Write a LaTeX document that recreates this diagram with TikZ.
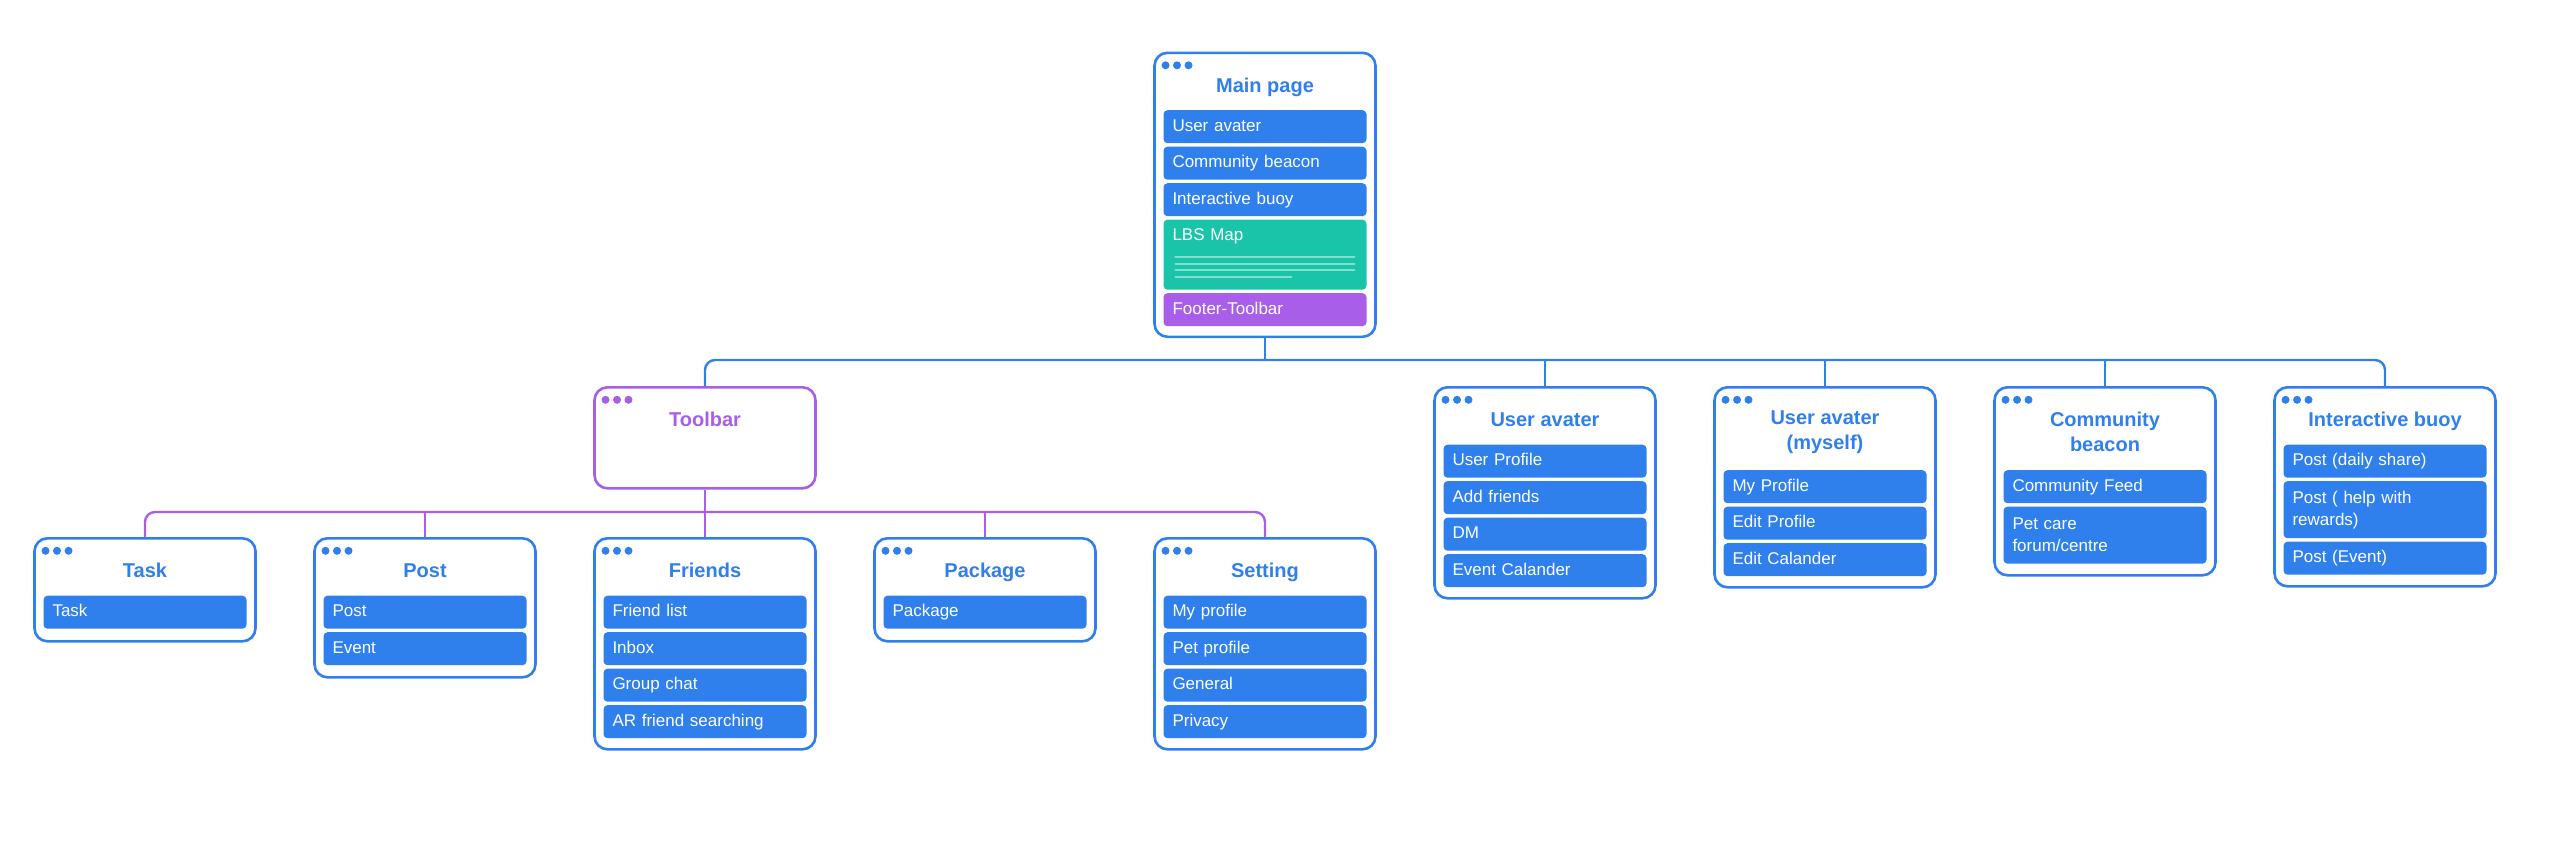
\documentclass[tikz,border=0pt]{standalone}
\usepackage{fontspec}
\setmainfont{Liberation Sans}
\definecolor{mblue}{RGB}{47,128,237}
\definecolor{mpurple}{RGB}{168,94,232}
\definecolor{mteal}{RGB}{26,196,168}

\begin{document}
\begin{tikzpicture}[x=1pt, y=-1pt,
    box/.style={draw=#1, line width=2.6pt, rounded corners=13pt, fill=white, minimum width=221pt, anchor=north, inner sep=0pt,
      path picture={\fill[#1] ([xshift=11pt,yshift=-12.5pt]path picture bounding box.north west) circle (4pt) ++(11.5pt,0pt) circle (4pt) ++(11.5pt,0pt) circle (4pt);}},
    title2/.style={text=#1, font=\bfseries\fontsize{20}{25}\selectfont, align=center},
    title/.style={title2=#1, text height=14.5pt, text depth=0pt},
    ibase/.style={fill=#1, text=white, rounded corners=4pt, anchor=north, minimum height=33pt, text width=185pt, inner xsep=9pt, inner ysep=0pt, align=left, font=\fontsize{17}{22}\selectfont},
    item/.style={ibase=#1, text height=12.5pt, text depth=3.5pt},
    item/.default=mblue,
    item2/.style={ibase=#1, minimum height=57pt},
    item2/.default=mblue,
    mapline/.style={draw=white!45!mteal, line width=2pt, line cap=round},
    wire/.style={draw=#1, line width=2.4pt, rounded corners=10pt}]

			\useasboundingbox (0,0) rectangle (2557,847);

			% main page
			\node[box=mblue, minimum height=284pt] (main) at (1265,51.5) {};
			\node[title=mblue] (maint) at (1265,85) {Main page};
			\node[item] (main1) at (1265,110) {User avater};
			\node[item] (main2) at (1265,146.5) {Community beacon};
			\node[item] (main3) at (1265,183) {Interactive buoy};
			\node[item=mteal, minimum height=70pt, text depth=40.5pt] (lbs) at (1265,219.5) {LBS Map};
			\node[item=mpurple] (footer) at (1265,293) {Footer-Toolbar};

			\draw[mapline] ([xshift=12pt,yshift=-37.5pt]lbs.north west) -- ++(179pt,0pt);
			\draw[mapline] ([xshift=12pt,yshift=-44pt]lbs.north west) -- ++(179pt,0pt);
			\draw[mapline] ([xshift=12pt,yshift=-50.5pt]lbs.north west) -- ++(179pt,0pt);
			\draw[mapline] ([xshift=12pt,yshift=-57pt]lbs.north west) -- ++(116pt,0pt);

			% toolbar
			\node[box=mpurple, minimum height=101pt] (toolbar) at (705,386) {};
			\node[title=mpurple] (toolbart) at (705,419.5) {Toolbar};

			\node[box=mblue, minimum height=103pt] (task) at (145,537) {};
			\node[title=mblue] (taskt) at (145,570.5) {Task};
			\node[item] (task1) at (145,595.5) {Task};

			\node[box=mblue, minimum height=139pt] (post) at (425,537) {};
			\node[title=mblue] (postt) at (425,570.5) {Post};
			\node[item] (post1) at (425,595.5) {Post};
			\node[item] (post2) at (425,632) {Event};

			\node[box=mblue, minimum height=211pt] (friends) at (705,537) {};
			\node[title=mblue] (friendst) at (705,570.5) {Friends};
			\node[item] (friends1) at (705,595.5) {Friend list};
			\node[item] (friends2) at (705,632) {Inbox};
			\node[item] (friends3) at (705,668.5) {Group chat};
			\node[item] (friends4) at (705,705) {AR friend searching};

			\node[box=mblue, minimum height=103pt] (package) at (985,537) {};
			\node[title=mblue] (packaget) at (985,570.5) {Package};
			\node[item] (package1) at (985,595.5) {Package};

			\node[box=mblue, minimum height=211pt] (setting) at (1265,537) {};
			\node[title=mblue] (settingt) at (1265,570.5) {Setting};
			\node[item] (setting1) at (1265,595.5) {My profile};
			\node[item] (setting2) at (1265,632) {Pet profile};
			\node[item] (setting3) at (1265,668.5) {General};
			\node[item] (setting4) at (1265,705) {Privacy};

			% right hand pages
			\node[box=mblue, minimum height=211pt] (uav) at (1545,386) {};
			\node[title=mblue] (uavt) at (1545,419.5) {User avater};
			\node[item] (uav1) at (1545,444.5) {User Profile};
			\node[item] (uav2) at (1545,481) {Add friends};
			\node[item] (uav3) at (1545,517.5) {DM};
			\node[item] (uav4) at (1545,554) {Event Calander};

			\node[box=mblue, minimum height=200pt] (uavme) at (1825,386) {};
			\node[title2=mblue] (uavmet) at (1825,432) {User avater\\(myself)};
			\node[item] (uavme1) at (1825,470) {My Profile};
			\node[item] (uavme2) at (1825,506.5) {Edit Profile};
			\node[item] (uavme3) at (1825,543) {Edit Calander};

			\node[box=mblue, minimum height=188pt] (beacon) at (2105,386) {};
			\node[title2=mblue] (beacont) at (2105,432) {Community\\beacon};
			\node[item] (beacon1) at (2105,470) {Community Feed};
			\node[item2] (beacon2) at (2105,506.5) {Pet care\\forum/centre};

			\node[box=mblue, minimum height=199pt] (buoy) at (2385,386) {};
			\node[title=mblue] (buoyt) at (2385,419.5) {Interactive buoy};
			\node[item] (buoy1) at (2385,444.5) {Post (daily share)};
			\node[item2] (buoy2) at (2385,481) {Post ( help with\\rewards)};
			\node[item] (buoy3) at (2385,541.5) {Post (Event)};

			% connectors
			\coordinate (mainbus) at (1265,360);
			\coordinate (toolbus) at (705,512);

			\draw[wire=mblue] (main.south) -- (mainbus);
			\draw[wire=mblue] (toolbar.north) |- (mainbus) -| (buoy.north);
			\draw[wire=mblue] (uav.north) -- (uav.north |- mainbus);
			\draw[wire=mblue] (uavme.north) -- (uavme.north |- mainbus);
			\draw[wire=mblue] (beacon.north) -- (beacon.north |- mainbus);

			\draw[wire=mpurple] (toolbar.south) -- (friends.north);
			\draw[wire=mpurple] (task.north) |- (toolbus) -| (setting.north);
			\draw[wire=mpurple] (post.north) -- (post.north |- toolbus);
			\draw[wire=mpurple] (package.north) -- (package.north |- toolbus);
		\end{tikzpicture}
\end{document}
